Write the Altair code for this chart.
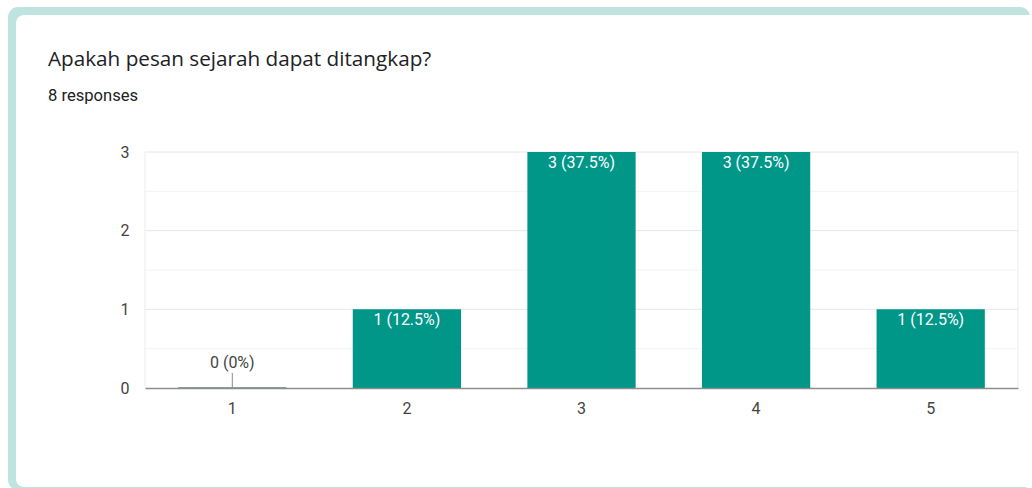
import altair as alt
import pandas as pd

# Survey answers on a 1-5 scale and how many responses each got
scale_points = ["1", "2", "3", "4", "5"]
counts = [0, 1, 3, 3, 1]
total_responses = 8

question = "Apakah pesan sejarah dapat ditangkap?"
subtitle = f"{total_responses} responses"

TEAL = "#009688"
FRAME = "#bfe4e0"
FONT = "Roboto"
TITLE_FONT = "Open Sans"
LABEL_SIZE = 16

df = pd.DataFrame({"point": scale_points, "count": counts})
df["label"] = [f"{c} ({c / total_responses * 100:g}%)" for c in counts]
df["lead"] = df["count"] + 0.19

W, H = 873, 236
PAD_L, PAD_T = 145, 152

x_sort = scale_points
x_scale = alt.Scale(domain=scale_points, paddingInner=0.38, paddingOuter=0.19)
y_scale = alt.Scale(domain=[0, 3], nice=False)

base = alt.Chart(df)

# card frame behind the chart
frame = base.mark_rect(color=FRAME, cornerRadius=10).encode(
    x=alt.value(8 - PAD_L), x2=alt.value(1030 - PAD_L),
    y=alt.value(7 - PAD_T), y2=alt.value(490 - PAD_T),
).transform_filter("datum.point === '1'")
card = base.mark_rect(color="white", cornerRadius=8).encode(
    x=alt.value(16 - PAD_L), x2=alt.value(1045 - PAD_L),
    y=alt.value(15 - PAD_T), y2=alt.value(487 - PAD_T),
).transform_filter("datum.point === '1'")

# horizontal gridlines: whole numbers slightly darker than halves
grid_df = pd.DataFrame({"v": [0.5, 1, 1.5, 2, 2.5, 3]})
grid = alt.Chart(grid_df).mark_rule(strokeWidth=1).encode(
    y=alt.Y("v:Q", scale=y_scale),
    color=alt.condition("datum.v % 1 === 0", alt.value("#e6e6e6"), alt.value("#f3f3f3")),
)

# thin borders on the left and right of the plot area
sides = base.mark_rule(color="#ececec").encode(
    x=alt.value(0), y=alt.value(0), y2=alt.value(H),
).transform_filter("datum.point === '1'")
sides_r = base.mark_rule(color="#ececec").encode(
    x=alt.value(W), y=alt.value(0), y2=alt.value(H),
).transform_filter("datum.point === '1'")

bars = base.mark_bar(color=TEAL, stroke="#5f8a86").encode(
    x=alt.X(
        "point:N", sort=x_sort, scale=x_scale,
        axis=alt.Axis(
            title=None, labelAngle=0, domain=True, domainColor="#8d8d8d",
            domainWidth=1.5, ticks=False, labelPadding=12,
            labelFontSize=LABEL_SIZE, labelColor="#444444", labelFont=FONT,
            grid=False, zindex=1,
        ),
    ),
    y=alt.Y(
        "count:Q", scale=y_scale,
        axis=alt.Axis(
            title=None, values=[0, 1, 2, 3], format="d", grid=False,
            domain=False, ticks=False, labelPadding=16,
            labelFontSize=LABEL_SIZE, labelColor="#444444", labelFont=FONT,
            zindex=1,
        ),
    ),
    strokeWidth=alt.condition("datum.count === 0", alt.value(1.5), alt.value(0)),
)

inside = base.mark_text(
    color="white", baseline="top", dy=3, fontSize=LABEL_SIZE, font=FONT
).encode(
    x=alt.X("point:N", sort=x_sort, scale=x_scale),
    y=alt.Y("count:Q", scale=y_scale),
    text="label:N",
).transform_filter("datum.count > 0")

leader = base.mark_rule(color="#8d8d8d").encode(
    x=alt.X("point:N", sort=x_sort, scale=x_scale),
    y=alt.Y("count:Q", scale=y_scale),
    y2="lead:Q",
).transform_filter("datum.count === 0")

outside = base.mark_text(
    color="#444444", baseline="bottom", dy=-17, fontSize=LABEL_SIZE, font=FONT
).encode(
    x=alt.X("point:N", sort=x_sort, scale=x_scale),
    y=alt.Y("count:Q", scale=y_scale),
    text="label:N",
).transform_filter("datum.count === 0")

heading = base.mark_text(
    align="left", baseline="alphabetic", fontSize=20.7, font=TITLE_FONT,
    color="#202124",
).encode(
    x=alt.value(48 - PAD_L), y=alt.value(66 - PAD_T), text=alt.value(question)
).transform_filter("datum.point === '1'")

sub = base.mark_text(
    align="left", baseline="alphabetic", fontSize=16.6, font=FONT,
    color="#202124",
).encode(
    x=alt.value(48 - PAD_L), y=alt.value(101 - PAD_T), text=alt.value(subtitle)
).transform_filter("datum.point === '1'")

chart = (
    alt.layer(frame, card, grid, sides, sides_r, bars, leader, inside, outside, heading, sub)
    .properties(
        width=W, height=H,
        autosize=alt.AutoSizeParams(type="none"),
        padding={"left": PAD_L, "top": PAD_T, "right": 1032 - PAD_L - W, "bottom": 488 - PAD_T - H},
        background="white",
    )
    .configure_view(stroke=None)
)

chart.save("out.html", embed_options={"renderer": "svg", "actions": False})
